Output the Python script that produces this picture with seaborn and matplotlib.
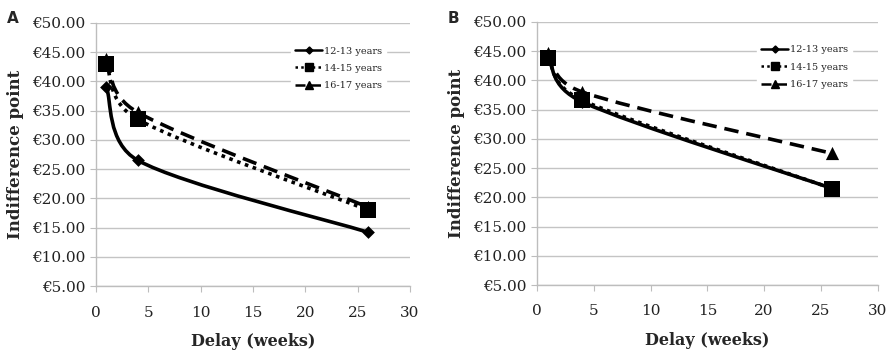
import numpy as np
import pandas as pd
import seaborn as sns
import matplotlib.pyplot as plt
from matplotlib.path import Path
from matplotlib.patches import PathPatch
from matplotlib.lines import Line2D

# delay in weeks
delay = [1, 4, 26]
groups = ['12-13 years', '14-15 years', '16-17 years']

# panel A
a_12_13 = [39.0, 26.5, 14.2]
a_14_15 = [43.0, 33.5, 18.0]
a_16_17 = [43.8, 34.7, 18.5]

# panel B
b_12_13 = [44.0, 36.3, 21.5]
b_14_15 = [43.8, 36.6, 21.5]
b_16_17 = [44.7, 38.0, 27.5]

sns.set_style('white')
plt.rcParams['font.family'] = ['DejaVu Serif']

styles = {
    '12-13 years': dict(ls='-', marker='D', ms=6.5, lw=2.6),
    '14-15 years': dict(ls=(0, (1, 1.3)), marker='s', ms=11, lw=2.6),
    '16-17 years': dict(ls=(0, (4, 2.2)), marker='^', ms=9.5, lw=2.6),
}


def smooth_path(x, y):
    # excel style smoothed line through the points (cubic bezier),
    # tangents shortened so the curve does not run back in x
    pts = np.column_stack([x, y]).astype(float)
    ext = np.vstack([pts[0], pts, pts[-1]])
    verts = [pts[0]]
    codes = [Path.MOVETO]
    for i in range(len(pts) - 1):
        p0, p1, p2, p3 = ext[i], ext[i + 1], ext[i + 2], ext[i + 3]
        dx = p2[0] - p1[0]
        t1 = p2 - p0
        t2 = p3 - p1
        k1 = min(1 / 6.0, dx / t1[0]) if t1[0] > 0 else 0
        k2 = min(1 / 6.0, dx / t2[0]) if t2[0] > 0 else 0
        c1 = p1 + t1 * k1
        c2 = p2 - t2 * k2
        verts += [c1, c2, p2]
        codes += [Path.CURVE4] * 3
    return Path(verts, codes)


def draw_panel(ax, series, letter):
    rows = []
    for g, vals in zip(groups, series):
        for d, v in zip(delay, vals):
            rows.append({'delay': d, 'value': v, 'group': g})
    df = pd.DataFrame(rows)

    for g in groups:
        sub = df[df['group'] == g]
        st = styles[g]
        patch = PathPatch(smooth_path(sub['delay'], sub['value']), facecolor='none',
                          edgecolor='black', lw=st['lw'], ls=st['ls'], zorder=3)
        ax.add_patch(patch)
        sns.scatterplot(data=sub, x='delay', y='value', marker=st['marker'],
                        s=st['ms'] ** 2, color='black', edgecolor='black',
                        linewidth=0, ax=ax, zorder=4, legend=False)

    ax.set_xlim(0, 30)
    ax.set_ylim(5, 50)
    ax.set_xticks(range(0, 31, 5))
    ax.set_yticks(range(5, 51, 5))
    ax.set_yticklabels([f'€{v:.2f}' for v in range(5, 51, 5)])
    ax.yaxis.grid(True, color='#c4c4c4', lw=1.0)
    ax.set_axisbelow(True)
    for sp in ['top', 'right']:
        ax.spines[sp].set_visible(False)
    for sp in ['left', 'bottom']:
        ax.spines[sp].set_color('#bdbdbd')
        ax.spines[sp].set_linewidth(1.0)
    ax.tick_params(axis='both', which='both', length=4, color='#bdbdbd',
                   labelsize=11, direction='out', left=True, bottom=True,
                   labelcolor='#222222')
    ax.tick_params(axis='x', pad=10)
    ax.set_xlabel('Delay (weeks)', fontsize=11.5, fontweight='bold', labelpad=10)
    ax.set_ylabel('Indifference point', fontsize=12, fontweight='bold', labelpad=6)

    handles = [Line2D([], [], color='black', lw=1.8, ls=styles[g]['ls'],
                      marker=styles[g]['marker'], ms=styles[g]['ms'] * 0.55)
               for g in groups]
    leg = ax.legend(handles, groups, loc='upper right', bbox_to_anchor=(0.925, 0.925),
                    frameon=True, fontsize=7, handlelength=2.8, labelspacing=0.85,
                    borderpad=0.4, handletextpad=0.2, borderaxespad=0)
    leg.get_frame().set_edgecolor('white')
    leg.get_frame().set_facecolor('white')
    leg.get_frame().set_alpha(1)
    leg.get_frame().set_boxstyle('square', pad=0)
    ax.figure.text(ax.get_position().x0 - 0.1, 0.97, letter, fontsize=11,
                   fontweight='bold', family='DejaVu Sans', va='top')


fig = plt.figure(figsize=(8.92, 3.64), dpi=100)
ax1 = fig.add_axes([0.1076, 0.214, 0.352, 0.723])
ax2 = fig.add_axes([0.602, 0.217, 0.382, 0.723])

draw_panel(ax1, [a_12_13, a_14_15, a_16_17], 'A')
draw_panel(ax2, [b_12_13, b_14_15, b_16_17], 'B')

fig.savefig('out.png', dpi=100)
